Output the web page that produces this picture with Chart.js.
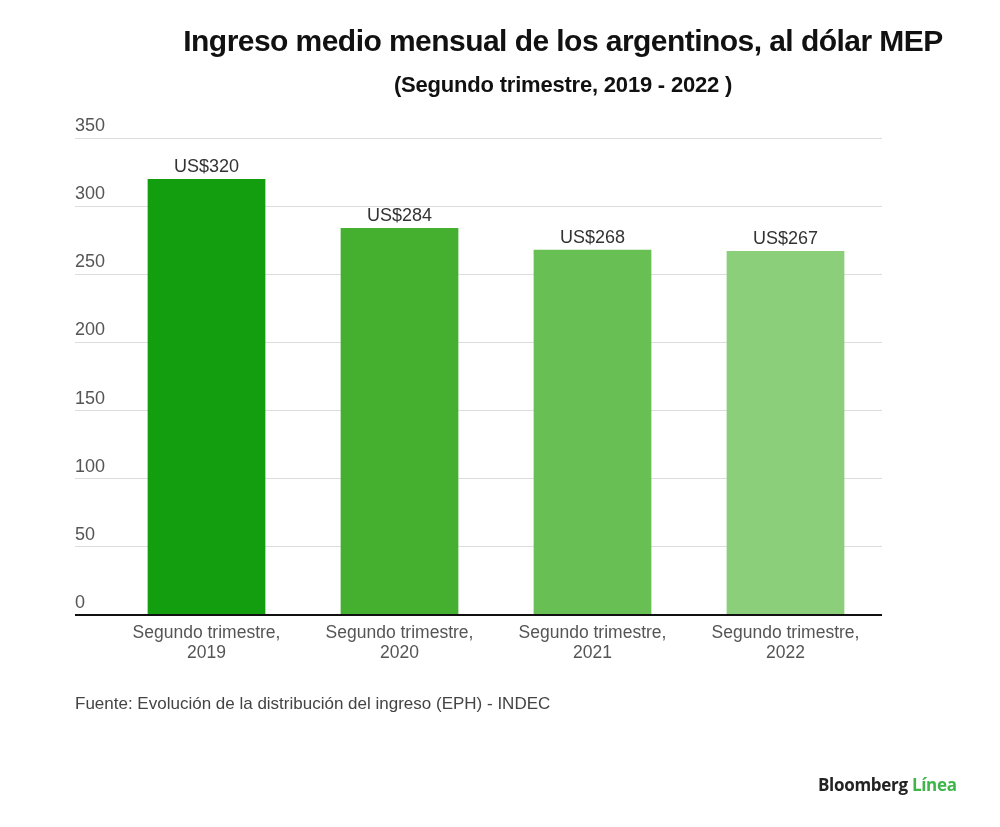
<!DOCTYPE html>
<html>
<head>
<meta charset="utf-8">
<script src="https://cdn.jsdelivr.net/npm/chart.js@4"></script>
<style>
body{margin:0;background:#fff;width:1000px;height:827px;overflow:hidden;position:relative;font-family:"Liberation Sans",Arial,sans-serif;}
#wrap{position:absolute;left:0;top:0;width:1000px;height:827px;}
.title{position:absolute;left:563px;top:24px;transform:translateX(-50%);white-space:nowrap;font-weight:700;font-size:30px;letter-spacing:-0.55px;color:#111;}
.subtitle{position:absolute;left:563px;top:72px;transform:translateX(-50%);white-space:nowrap;font-weight:700;font-size:22px;letter-spacing:-0.2px;color:#111;}
.source{position:absolute;left:75px;top:694px;white-space:nowrap;font-size:17px;letter-spacing:0;color:#444;}
.logo{position:absolute;left:818px;top:773px;white-space:nowrap;font-family:"Open Sans",sans-serif;font-weight:700;font-size:17px;letter-spacing:-0.3px;color:#222;}
.logo span{color:#3fb54a;}
</style>
</head>
<body>
<div id="wrap"><canvas id="chart" width="1000" height="827"></canvas></div>
<div class="title">Ingreso medio mensual de los argentinos, al dólar MEP</div>
<div class="subtitle">(Segundo trimestre, 2019 - 2022 )</div>
<div class="source">Fuente: Evolución de la distribución del ingreso (EPH) - INDEC</div>
<div class="logo">Bloomberg <span>Línea</span></div>
<script>

// data
let periods = [["Segundo trimestre,","2019"],["Segundo trimestre,","2020"],["Segundo trimestre,","2021"],["Segundo trimestre,","2022"]];
let income = [320, 284, 268, 267];
let barLabels = ["US$320","US$284","US$268","US$267"];
let barColors = ["#129e0e","#45b02f","#68bf53","#8bcf7b"];
let yTicks = [0,50,100,150,200,250,300,350];

/* labels above the bars */
const valueLabels = {
id:"valueLabels",
afterDatasetsDraw(chart){
let ctx = chart.ctx;
let meta = chart.getDatasetMeta(0);
ctx.save();
ctx.font = "18px 'Liberation Sans', Arial, sans-serif";
ctx.fillStyle = "#333";
ctx.textAlign = "center";
ctx.textBaseline = "bottom";
meta.data.forEach((bar,i)=>{
ctx.fillText(barLabels[i], bar.x, bar.y - 3);
});
ctx.restore();
}
};

new Chart(document.getElementById("chart"),{
type:"bar",
data:{
labels:periods,
datasets:[{
data:income,
backgroundColor:barColors,
borderWidth:0,
categoryPercentage:1,
barPercentage:0.61
}]
},
options:{
responsive:false,
animation:false,
layout:{padding:{left:75,right:118,top:138,bottom:152}},
plugins:{legend:{display:false},tooltip:{enabled:false},title:{display:false}},
scales:{
x:{
grid:{display:false},
border:{display:false},
afterFit(scale){ scale.height = 60; },
ticks:{
color:"#555",
padding:1,
maxRotation:0,
font:{family:"'Liberation Sans', Arial, sans-serif",size:17.5,lineHeight:1.1}
}
},
y:{
min:0,
max:350,
afterFit(scale){ scale.width = 35; },
afterBuildTicks(scale){ scale.ticks = yTicks.map(v=>({value:v})); },
border:{display:false},
grid:{
color:c=>c.tick && c.tick.value===0 ? "#111" : "#dddddd",
tickColor:c=>c.tick && c.tick.value===0 ? "#111" : "#dddddd",
lineWidth:c=>c.tick && c.tick.value===0 ? 2 : 1,
tickLength:35,
drawTicks:true
},
ticks:{
color:"#555",
padding:0,
crossAlign:"far",
labelOffset:-12,
font:{family:"'Liberation Sans', Arial, sans-serif",size:18}
}
}
}
},
plugins:[valueLabels]
});

</script>
</body>
</html>
